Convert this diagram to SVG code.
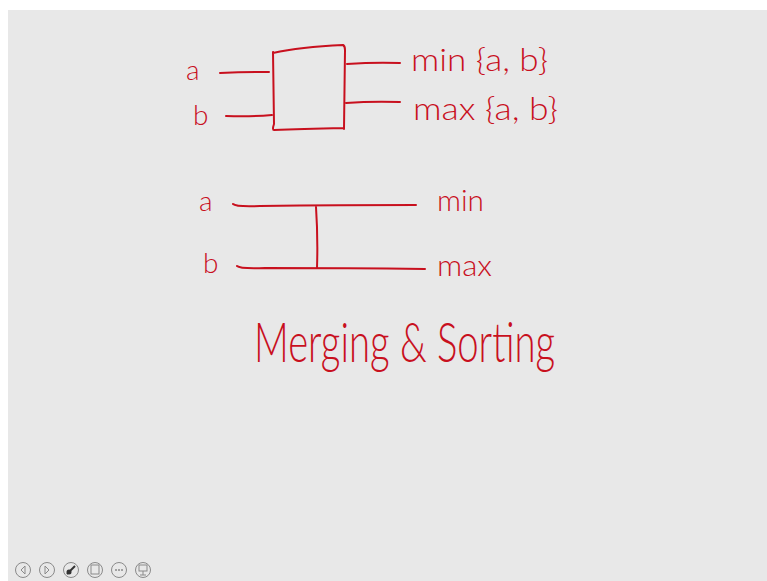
<svg xmlns="http://www.w3.org/2000/svg" width="767" height="581" viewBox="0 0 767 581">
<style>
.ink{fill:none;stroke:#c8101e;stroke-width:2;stroke-linecap:round;stroke-linejoin:round}
.t{fill:#c8101e;font-family:"Lato","Open Sans","Liberation Sans",sans-serif;font-weight:300}
.ic{fill:none;stroke:#8a8a8a;stroke-width:1}
</style>
<rect width="767" height="581" fill="#ffffff"/>
<rect x="8" y="10" width="759" height="571" fill="#e8e8e8"/>

<g id="connectors">
<path class="ink" d="M220,73 Q245,72 269,72"/>
<path class="ink" d="M226,116 Q250,117 272,115"/>
<path class="ink" d="M347,64 Q375,62 400,63"/>
<path class="ink" d="M346,103 Q372,101 400,102"/>
<path class="ink" d="M233,204 Q236,207 260,206 Q340,205 416,205"/>
<path class="ink" d="M237,266 Q240,269 265,268 Q350,268 425,269"/>
<path class="ink" d="M316,207 Q318,237 317,268"/>
</g>

<g id="box">
<path class="ink" d="M273,53 Q300,47 343,45 Q345,46 345,50 L344,129 M273,52 L274,124 Q272,130 274,130 Q300,129 344,128"/>
</g>

<g id="labels-top">
<text class="t" x="186" y="80" font-size="28">a</text>
<text class="t" x="193" y="125" font-size="28">b</text>
<text class="t" x="411" y="71" font-size="31" textLength="137" lengthAdjust="spacingAndGlyphs">min {a, b}</text>
<text class="t" x="413" y="120" font-size="31" textLength="145" lengthAdjust="spacingAndGlyphs">max {a, b}</text>
</g>

<g id="labels-mid">
<text class="t" x="199" y="211" font-size="28">a</text>
<text class="t" x="203" y="273" font-size="28">b</text>
<text class="t" x="437" y="211" font-size="30" textLength="47" lengthAdjust="spacingAndGlyphs">min</text>
<text class="t" x="437" y="276" font-size="30" textLength="55" lengthAdjust="spacingAndGlyphs">max</text>
</g>

<g id="title">
<text class="t" x="254" y="362" font-size="56" textLength="301" lengthAdjust="spacingAndGlyphs">Merging &amp; Sorting</text>
</g>

<g id="controls">
<circle class="ic" cx="23" cy="570" r="7.5"/><path class="ic" d="M25,566 L21,570 L25,574 Z"/>
<circle class="ic" cx="47" cy="570" r="7.5"/><path class="ic" d="M45,566 L49,570 L45,574 Z"/>
<circle class="ic" cx="71" cy="570" r="7.5"/><path d="M67,574 L75,566" stroke="#333" stroke-width="2"/><circle cx="69" cy="572" r="2.5" fill="#333"/>
<circle class="ic" cx="95" cy="570" r="7.5"/><rect class="ic" x="91" y="565" width="8" height="9"/>
<circle class="ic" cx="119" cy="570" r="7.5"/><circle cx="116" cy="570" r="1" fill="#8a8a8a"/><circle cx="119" cy="570" r="1" fill="#8a8a8a"/><circle cx="122" cy="570" r="1" fill="#8a8a8a"/>
<circle class="ic" cx="143" cy="570" r="7.5"/><rect class="ic" x="139" y="565" width="8" height="6"/><path class="ic" d="M143,571 L143,575 M140,575 L146,575"/>
</g>
</svg>
